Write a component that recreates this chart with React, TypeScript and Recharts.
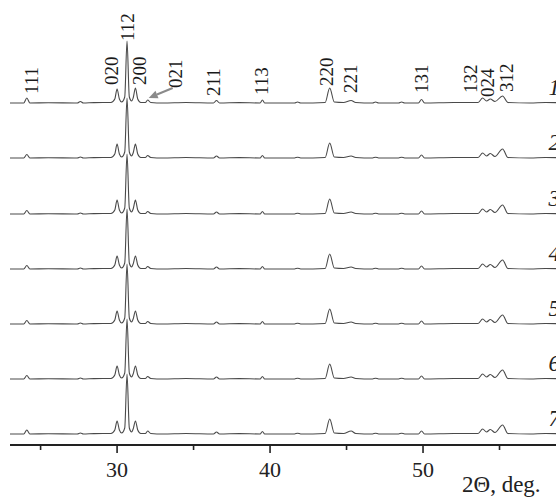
import React from 'react';
import { LineChart, Line, XAxis, YAxis, ReferenceDot } from 'recharts';

// 2θ grid (deg)
const theta = [
  23.0, 23.9, 24.1, 24.3, 25.5, 27.4, 27.6, 27.8, 28.5, 29.6,
  29.85, 30.0, 30.15, 30.3, 30.5, 30.65, 30.8, 30.95, 31.05, 31.2,
  31.35, 31.55, 31.85, 32.0, 32.2, 33.0, 34.5, 36.3, 36.5, 36.7,
  38.0, 39.35, 39.5, 39.65, 41.6, 41.8, 42.0, 43.6, 43.9, 44.2,
  44.8, 45.3, 45.6, 46.7, 46.9, 47.1, 48.4, 48.6, 48.8, 49.7,
  49.9, 50.1, 52.0, 53.6, 53.9, 54.15, 54.4, 54.7, 55.2, 55.55,
  57.0, 58.0, 60.0,
];

// intensities (a.u.) of samples 1..7
const pattern1 = [
  0, 0, 5, 0, 0.3, 0, 1.5, 0, 0.4, 0.5,
  4, 14, 4, 1, 6, 62, 6, 2, 5, 15,
  4, 0.5, 0.5, 3, 0.5, 0, 0.5, 0, 2.5, 0,
  0.4, 0, 3, 0, 0, 1, 0, 0.5, 15, 1,
  0.5, 2.5, 0.5, 0, 1, 0, 0, 1, 0, 0,
  3.5, 0, 0.5, 0.5, 5, 2, 4, 1.5, 7, 0.5,
  0, 0.5, 0,
];
const pattern2 = [
  0, 0, 3.5, 0, 0.3, 0, 1, 0, 0.4, 0.5,
  4, 14, 4, 1, 6, 60, 6, 2, 5, 14,
  4, 0.5, 0.5, 2.5, 0.5, 0, 0.5, 0, 2, 0,
  0.4, 0, 2.5, 0, 0, 0.8, 0, 0.5, 15, 1,
  0.5, 2, 0.5, 0, 0.8, 0, 0, 0.8, 0, 0,
  3, 0, 0.5, 0.5, 5, 2, 4.5, 1.5, 9, 0.5,
  0, 0.5, 0,
];
const pattern3 = [
  0, 0, 3.5, 0, 0.3, 0, 1, 0, 0.4, 0.5,
  4, 14, 4, 1, 6, 60, 6, 2, 5, 14,
  4, 0.5, 0.5, 2.5, 0.5, 0, 0.5, 0, 2, 0,
  0.4, 0, 2.5, 0, 0, 0.8, 0, 0.5, 15, 1,
  0.5, 2, 0.5, 0, 0.8, 0, 0, 0.8, 0, 0,
  3, 0, 0.5, 0.5, 5, 2, 4.5, 1.5, 9, 0.5,
  0, 0.5, 0,
];
const pattern4 = [
  0, 0, 3.5, 0, 0.3, 0, 1, 0, 0.4, 0.5,
  4, 13, 4, 1, 6, 60, 6, 2, 5, 13,
  4, 0.5, 0.5, 2.5, 0.5, 0, 0.5, 0, 2, 0,
  0.4, 0, 2.5, 0, 0, 0.8, 0, 0.5, 15, 1,
  0.5, 2, 0.5, 0, 0.8, 0, 0, 0.8, 0, 0,
  3, 0, 0.5, 0.5, 5, 2, 4.5, 1.5, 9, 0.5,
  0, 0.5, 0,
];
const pattern5 = [
  0, 0, 3.5, 0, 0.3, 0, 1, 0, 0.4, 0.5,
  4, 13, 4, 1, 6, 60, 6, 2, 5, 13,
  4, 0.5, 0.5, 2.5, 0.5, 0, 0.5, 0, 2, 0,
  0.4, 0, 2.5, 0, 0, 0.8, 0, 0.5, 15, 1,
  0.5, 2, 0.5, 0, 0.8, 0, 0, 0.8, 0, 0,
  3, 0, 0.5, 0.5, 5, 2, 4.5, 1.5, 9, 0.5,
  0, 0.5, 0,
];
const pattern6 = [
  0, 0, 3.5, 0, 0.3, 0, 1, 0, 0.4, 0.5,
  4, 13, 4, 1, 6, 60, 6, 2, 5, 13,
  4, 0.5, 0.5, 2.5, 0.5, 0, 0.5, 0, 2, 0,
  0.4, 0, 2.5, 0, 0, 0.8, 0, 0.5, 15, 1,
  0.5, 2, 0.5, 0, 0.8, 0, 0, 0.8, 0, 0,
  3, 0, 0.5, 0.5, 5, 2, 4.5, 1.5, 9, 0.5,
  0, 0.5, 0,
];
const pattern7 = [
  0, 0, 4, 0, 0.3, 0, 1, 0, 0.4, 0.5,
  4, 13, 4, 1, 6, 60, 6, 2, 5, 13,
  4, 0.5, 0.5, 3, 0.5, 0, 0.5, 0, 2, 0,
  0.4, 0, 2.5, 0, 0, 0.8, 0, 0.5, 15, 1,
  0.5, 3, 0.5, 0, 0.8, 0, 0, 0.8, 0, 0,
  3, 0, 0.5, 0.5, 5, 2, 4.5, 1.5, 9, 0.5,
  0, 0.5, 0,
];

const patterns = [pattern1, pattern2, pattern3, pattern4, pattern5, pattern6, pattern7];
const sampleNames = ['1', '2', '3', '4', '5', '6', '7'];
const offsets = [342, 287, 231, 176, 121, 66, 11];

// Miller indices and label positions (2θ of label centre, level above pattern 1)
const hklLabels = ['111', '020', '112', '200', '021', '211', '113', '220', '221', '131', '132', '024', '312'];
const hklTheta = [24.4, 29.65, 30.72, 31.45, 33.85, 36.33, 39.47, 43.72, 45.25, 49.9, 53.15, 54.2, 55.45];
const hklLevel = [9, 18, 62, 18, 15, 7, 8, 17, 10, 10, 10, 6, 11];

const xTicks = [25, 30, 35, 40, 45, 50, 55];
const xMajor = [30, 40, 50];

const rows = theta.map((t, i) => {
  const row: Record<string, number> = { theta: t };
  patterns.forEach((p, k) => {
    row['s' + (k + 1)] = offsets[k] + p[i];
  });
  return row;
});

const SERIF = "'Liberation Serif', 'Times New Roman', serif";
const LINE = '#4a4a4a';
const HKL_SIZE = 19;

const AxisTick = (props: any) => {
  const { x, y, payload } = props;
  const major = xMajor.includes(payload.value);
  return (
    <g>
      <line x1={x} x2={x} y1={y} y2={y + (major ? 8 : 5)} stroke="#222" strokeWidth={1.6} />
      {major && (
        <text x={x} y={y + 32} textAnchor="middle" fontFamily={SERIF} fontSize={22} fill="#222">
          {payload.value}
        </text>
      )}
    </g>
  );
};

const VerticalLabel = ({ cx, cy, text, size }: any) => (
  <text
    x={cx}
    y={cy}
    dy="0.33em"
    transform={`rotate(-90, ${cx}, ${cy})`}
    fontFamily={SERIF}
    fontSize={size}
    fill="#1a1a1a"
  >
    {text}
  </text>
);

export default function App() {
  return (
    <div
      style={{
        position: 'fixed',
        left: 0,
        top: 0,
        width: 556,
        height: 499,
        overflow: 'hidden',
        background: '#fff',
      }}
    >
      <LineChart width={576} height={499} data={rows} margin={{ top: 8, right: 0, left: 10, bottom: 0 }}>
        <XAxis
          dataKey="theta"
          type="number"
          domain={[23, 60]}
          allowDataOverflow
          ticks={xTicks}
          tick={<AxisTick />}
          tickLine={false}
          tickSize={0}
          tickMargin={0}
          axisLine={{ stroke: '#222', strokeWidth: 2 }}
          height={54}
          interval={0}
        />
        <YAxis hide type="number" domain={[0, 437]} allowDataOverflow />
        {patterns.map((_, k) => (
          <Line
            key={k}
            dataKey={'s' + (k + 1)}
            type="monotone"
            stroke={LINE}
            strokeWidth={1.1}
            dot={false}
            activeDot={false}
            isAnimationActive={false}
          />
        ))}
        {sampleNames.map((n, k) => (
          <ReferenceDot
            key={'n' + k}
            x={58.2}
            y={offsets[k] + 8}
            r={0}
            ifOverflow="visible"
            shape={(p: any) => (
              <text x={p.cx} y={p.cy} fontFamily={SERIF} fontStyle="italic" fontSize={23} fill="#222">
                {n}
              </text>
            )}
          />
        ))}
        {hklLabels.map((h, i) => (
          <ReferenceDot
            key={'h' + i}
            x={hklTheta[i]}
            y={offsets[0] + hklLevel[i]}
            r={0}
            ifOverflow="visible"
            shape={(p: any) => <VerticalLabel cx={p.cx} cy={p.cy} text={h} size={HKL_SIZE} />}
          />
        ))}
        <ReferenceDot
          x={32.0}
          y={offsets[0] + 3}
          r={0}
          ifOverflow="visible"
          shape={(p: any) => {
            const cx = p.cx;
            const cy = p.cy;
            return (
              <g>
                <line x1={cx + 25} y1={cy - 12} x2={cx + 9.3} y2={cy - 5.5} stroke="#8a8a8a" strokeWidth={2} />
                <polygon
                  points={`${cx + 1},${cy - 2} ${cx + 10.8},${cy - 1.8} ${cx + 7.8},${cy - 9.2}`}
                  fill="#8a8a8a"
                />
              </g>
            );
          }}
        />
        <ReferenceDot
          x={52.55}
          y={-47}
          r={0}
          ifOverflow="visible"
          shape={(p: any) => (
            <text x={p.cx} y={p.cy} fontFamily={SERIF} fontSize={23} fill="#222">
              2Θ, deg.
            </text>
          )}
        />
      </LineChart>
    </div>
  );
}
